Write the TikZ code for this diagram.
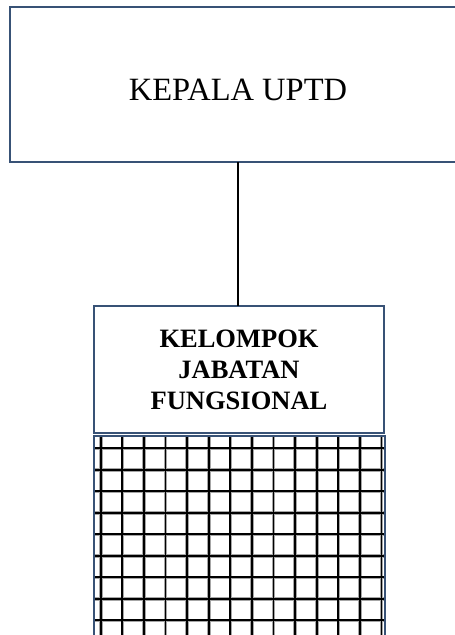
\documentclass[tikz,border=0pt]{standalone}
\usepackage{fontspec}
\setmainfont{Liberation Serif}
\usepackage{tikz}
\usetikzlibrary{positioning}

\definecolor{boxline}{RGB}{56,82,118}

\tikzset{
  orgbox/.style={draw=boxline, line width=2.8pt, inner sep=0pt, outer sep=0pt,
    fill=white, align=center},
  gridhalo/.style={black!35, line width=3.6pt},
  gridline/.style={black, line width=1.8pt}
}

\begin{document}
\begin{tikzpicture}[x=1pt,y=-1pt]
\useasboundingbox (0,0) rectangle (455,635);
\clip (0,0) rectangle (455,635);
\fill[white] (0,0) rectangle (455,635);

% kotak kepala, sisi kanan keluar dari gambar
\node[orgbox, minimum width=456pt, minimum height=155pt,
      font=\fontsize{32.5}{36}\selectfont, text height=31pt, text depth=0pt]
      (kepala) at (238,84.5) {KEPALA UPTD};

\node[orgbox, minimum width=290pt, minimum height=127pt,
      font=\fontsize{26.5}{31}\selectfont\bfseries]
      (kjf) at (239,369.5) {KELOMPOK\\JABATAN\\FUNGSIONAL};

\draw[line width=1.4pt] (kepala.south -| 238,0) -- (kjf.north -| 238,0);

% kotak berpola kotak-kotak di bawah
\begin{scope}
\clip (94,436) rectangle (385,650);
\foreach \i in {0,...,13}
  \draw[gridhalo] ({100.7+21.6*\i},436) -- ({100.7+21.6*\i},650);
\foreach \j in {0,...,8}
  \draw[gridhalo] (94,{448.3+21.5*\j}) -- (385,{448.3+21.5*\j});
\foreach \i in {0,...,13}
  \draw[gridline] ({100.7+21.6*\i},436) -- ({100.7+21.6*\i},650);
\foreach \j in {0,...,8}
  \draw[gridline] (94,{448.3+21.5*\j}) -- (385,{448.3+21.5*\j});
\end{scope}
\draw[boxline, line width=2.8pt] (94,436) rectangle (385,650);
\end{tikzpicture}
\end{document}
